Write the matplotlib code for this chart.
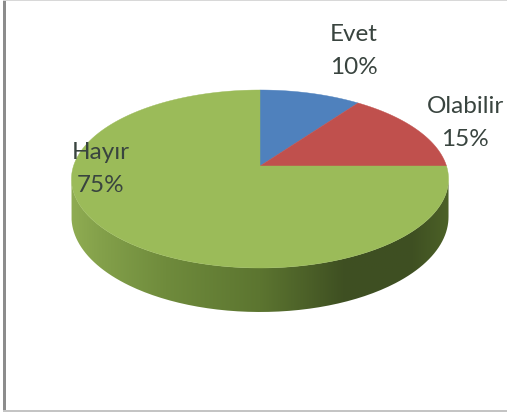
import numpy as np
import matplotlib
matplotlib.use("Agg")
import matplotlib.pyplot as plt
from matplotlib.patches import Polygon, PathPatch, Rectangle
from matplotlib.path import Path
from matplotlib.colors import LinearSegmentedColormap

categories = ["Evet", "Olabilir", "Hayır"]
shares = [10, 15, 75]
slice_colors = ["#4f81bd", "#c0504d", "#9bbb59"]

plt.rcParams["font.family"] = ["Lato", "DejaVu Sans"]
fig = plt.figure(figsize=(5.07, 4.12), dpi=100, facecolor="white")
ax = fig.add_axes([0, 0, 1, 1])
ax.set_xlim(0, 507)
ax.set_ylim(412, 0)
ax.axis("off")

# Perspective view of the pie's top disc
CX, CY, R, S, K = 260, 166, 186.5, 87.1, 0.146
DEPTH = 44


def project(theta):
    """theta is clockwise from 12 o'clock, in radians."""
    u, v = np.sin(theta), np.cos(theta)
    d = 1 + K * v
    return CX + R * u / d, CY - S * v / d


# Side wall, belonging to the slice that faces the viewer
t = np.linspace(0, 2 * np.pi, 400)
rx, ry = project(t)
right = np.argmax(rx[:200])
left = 200 + np.argmin(rx[200:])
front = t[right:left + 1]
fx, fy = project(front)
bx, by = fx, fy + DEPTH * (0.86 + 0.14 * np.sin((front - front[0]) / (front[-1] - front[0]) * np.pi))
wall = Path(np.vstack([np.c_[fx, fy], np.c_[bx, by][::-1]]), closed=False)
wall_cmap = LinearSegmentedColormap.from_list("wall", [
    (0.00, "#8fac52"), (0.08, "#83a04a"), (0.25, "#6f8b3c"), (0.50, "#5c7530"),
    (0.72, "#3f5022"), (0.90, "#3e4f22"), (1.00, "#4c6127")])
im = ax.imshow(np.linspace(0, 1, 256)[None, :], cmap=wall_cmap, aspect="auto",
               extent=[fx.min(), fx.max(), by.max() + 1, fy.min()], zorder=1)
clip = PathPatch(wall, transform=ax.transData, fc="none", ec="none")
ax.add_patch(clip)
im.set_clip_path(clip)
ax.set_xlim(0, 507)
ax.set_ylim(412, 0)

# Top slices
edges = np.cumsum([0] + shares) / sum(shares) * 2 * np.pi
for a, b, c in zip(edges[:-1], edges[1:], slice_colors):
    th = np.linspace(a, b, 200)
    x, y = project(th)
    ax.add_patch(Polygon(np.vstack([[CX, CY], np.c_[x, y]]), closed=True, fc=c, ec=c, lw=0.3, zorder=2))

# Labels
label_pos = [(354, 51), (465, 123), (101, 169)]
for name, val, (lx, ly) in zip(categories, shares, label_pos):
    ax.text(lx, ly, f"{name}\n{val}%", ha="center", va="center", fontsize=17.5,
            color="#39443f", linespacing=1.72, zorder=3)

# Outer frame of the screenshot
ax.add_patch(Rectangle((3, 0), 3, 412, fc="#8c8c8c", ec="none", zorder=4))
ax.add_patch(Rectangle((3, 0), 504, 1, fc="#d8d8d8", ec="none", zorder=4))
ax.add_patch(Rectangle((3, 410), 504, 1.5, fc="#c4c4c4", ec="none", zorder=4))

fig.savefig("out.png", dpi=100)
